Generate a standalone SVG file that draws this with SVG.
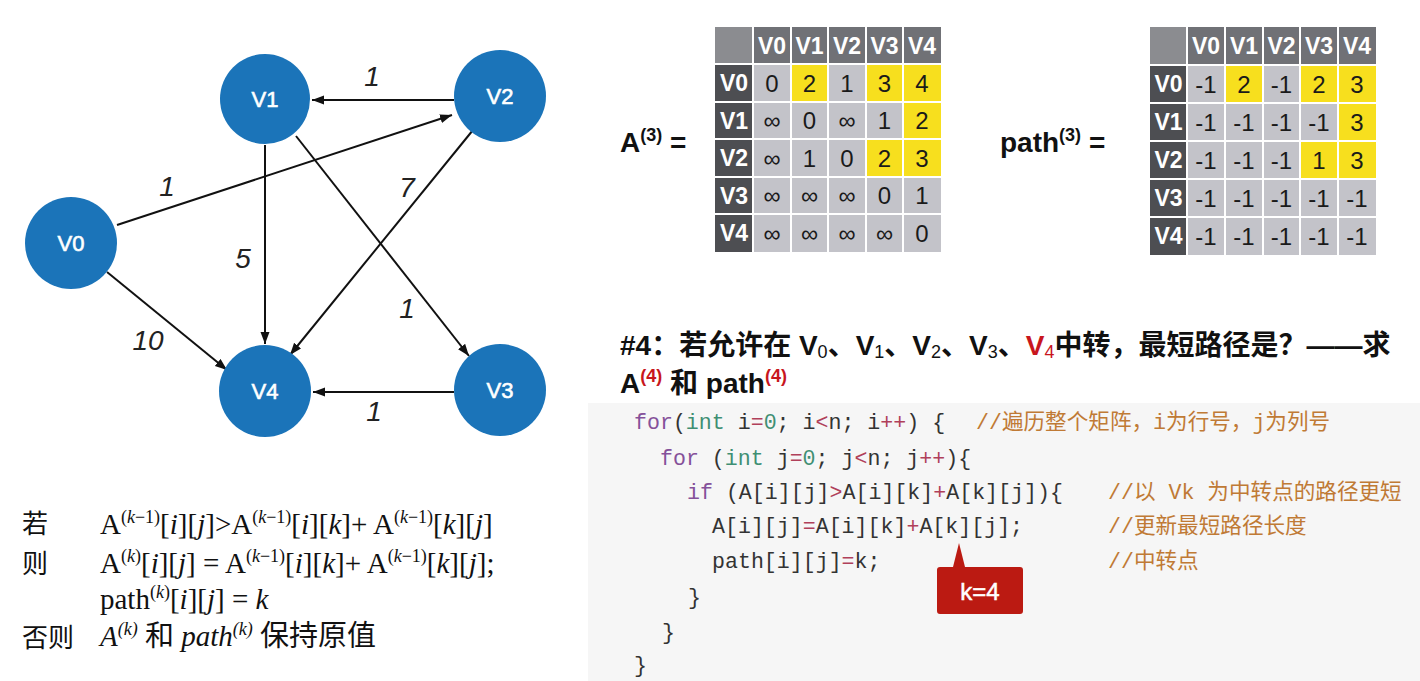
<svg xmlns="http://www.w3.org/2000/svg" width="1420" height="681" viewBox="0 0 1420 681">
<defs>
<marker id="arr" markerUnits="userSpaceOnUse" markerWidth="13" markerHeight="10" refX="12" refY="4.5" orient="auto">
<path d="M0,0 L12,4.5 L0,9 z" fill="#111"/>
</marker>
<style>
.node circle{fill:#1b74b9}
.node text{font-family:"Liberation Sans",Arial,sans-serif;font-size:22px;fill:#fff;stroke:#fff;stroke-width:0.6;text-anchor:middle}
.edge{stroke:#111;stroke-width:2;fill:none;marker-end:url(#arr)}
.wt{font-family:"Liberation Sans",Arial,sans-serif;font-style:italic;font-size:28px;fill:#222;text-anchor:middle}
.corner{fill:#8b8c90}.hrow{fill:#707176}.hcol{fill:#4d4e52}.data{fill:#c3c3c9}.yel{fill:#f7df1e}
.grid{stroke:#fff;stroke-width:2}
.ht{font-family:"Liberation Sans",Arial,sans-serif;font-weight:bold;font-size:23px;fill:#fff;text-anchor:middle}
.dt{font-family:"Liberation Sans",Arial,sans-serif;font-size:24px;fill:#1a1a1a;text-anchor:middle}
.lbl{font-family:"Liberation Sans",Arial,sans-serif;font-weight:bold;font-size:28px;fill:#111}
.title{font-family:"Liberation Sans","Noto Sans CJK SC",sans-serif;font-weight:bold;font-size:28px;fill:#111}
.red{fill:#c8161d}
.code{font-family:"Liberation Mono","Noto Sans CJK SC",monospace;font-size:21.6px;fill:#333}
.kw{fill:#85519a}.ty{fill:#3f8f73}.nu{fill:#3f8f73}.op{fill:#b0405a}
.cm{fill:#c07a35}
.f{font-family:"Liberation Serif","Noto Sans CJK SC",serif;font-size:29px;fill:#111}
.cj{font-family:"Noto Sans CJK SC",sans-serif;font-size:26px;fill:#111}
.sp{font-size:18px}
</style>
</defs>
<rect width="1420" height="681" fill="#fff"/>

<g id="connectors">
<line class="edge" x1="454" y1="100" x2="312" y2="100"/>
<line class="edge" x1="117" y1="225" x2="452" y2="115"/>
<line class="edge" x1="107" y1="272" x2="227" y2="370"/>
<line class="edge" x1="265" y1="145" x2="265" y2="344"/>
<line class="edge" x1="473" y1="130" x2="290" y2="355"/>
<line class="edge" x1="296" y1="136" x2="469" y2="356"/>
<line class="edge" x1="454" y1="392" x2="313" y2="392"/>
<text class="wt" x="372" y="86">1</text>
<text class="wt" x="167" y="196">1</text>
<text class="wt" x="407" y="197">7</text>
<text class="wt" x="243" y="268">5</text>
<text class="wt" x="407" y="318">1</text>
<text class="wt" x="148" y="350">10</text>
<text class="wt" x="374" y="421">1</text>
</g>

<g id="V0" class="node"><circle cx="71" cy="243" r="46"/><text x="71" y="251">V0</text></g>
<g id="V1" class="node"><circle cx="265" cy="99" r="45"/><text x="265" y="107">V1</text></g>
<g id="V2" class="node"><circle cx="500" cy="96" r="46"/><text x="500" y="104">V2</text></g>
<g id="V3" class="node"><circle cx="500" cy="390" r="46"/><text x="500" y="398">V3</text></g>
<g id="V4" class="node"><circle cx="265" cy="391" r="46"/><text x="265" y="399">V4</text></g>

<g id="A3">
<text class="lbl" x="620" y="152">A<tspan class="sp" dy="-11">(3)</tspan><tspan dy="11"> =</tspan></text>
<rect class="corner" x="715" y="27" width="38" height="37"/>
<rect class="hrow" x="753" y="27" width="188" height="37"/>
<rect class="hcol" x="715" y="64" width="38" height="188"/>
<rect class="data" x="753" y="64" width="188" height="188"/>
<rect class="yel" x="791" y="64" width="37" height="38"/>
<rect class="yel" x="866" y="64" width="75" height="38"/>
<rect class="yel" x="903" y="102" width="38" height="37"/>
<rect class="yel" x="866" y="139" width="75" height="38"/>
<g class="grid">
<line x1="753" y1="27" x2="753" y2="252"/><line x1="791" y1="27" x2="791" y2="252"/><line x1="828" y1="27" x2="828" y2="252"/><line x1="866" y1="27" x2="866" y2="252"/><line x1="903" y1="27" x2="903" y2="252"/>
<line x1="715" y1="64" x2="941" y2="64"/><line x1="715" y1="102" x2="941" y2="102"/><line x1="715" y1="139" x2="941" y2="139"/><line x1="715" y1="177" x2="941" y2="177"/><line x1="715" y1="214" x2="941" y2="214"/>
</g>
<text class="ht" x="772" y="54">V0</text><text class="ht" x="809.5" y="54">V1</text><text class="ht" x="847" y="54">V2</text><text class="ht" x="884.5" y="54">V3</text><text class="ht" x="922" y="54">V4</text>
<text class="ht" x="734" y="91">V0</text><text class="ht" x="734" y="129">V1</text><text class="ht" x="734" y="166">V2</text><text class="ht" x="734" y="204">V3</text><text class="ht" x="734" y="241">V4</text>
<text class="dt" x="772" y="92">0</text><text class="dt" x="809.5" y="92">2</text><text class="dt" x="847" y="92">1</text><text class="dt" x="884.5" y="92">3</text><text class="dt" x="922" y="92">4</text>
<text class="dt" x="772" y="129">∞</text><text class="dt" x="809.5" y="129">0</text><text class="dt" x="847" y="129">∞</text><text class="dt" x="884.5" y="129">1</text><text class="dt" x="922" y="129">2</text>
<text class="dt" x="772" y="167">∞</text><text class="dt" x="809.5" y="167">1</text><text class="dt" x="847" y="167">0</text><text class="dt" x="884.5" y="167">2</text><text class="dt" x="922" y="167">3</text>
<text class="dt" x="772" y="204">∞</text><text class="dt" x="809.5" y="204">∞</text><text class="dt" x="847" y="204">∞</text><text class="dt" x="884.5" y="204">0</text><text class="dt" x="922" y="204">1</text>
<text class="dt" x="772" y="242">∞</text><text class="dt" x="809.5" y="242">∞</text><text class="dt" x="847" y="242">∞</text><text class="dt" x="884.5" y="242">∞</text><text class="dt" x="922" y="242">0</text>
</g>

<g id="path3">
<text class="lbl" x="1000" y="152">path<tspan class="sp" dy="-11">(3)</tspan><tspan dy="11"> =</tspan></text>
<rect class="corner" x="1150" y="27" width="37" height="38"/>
<rect class="hrow" x="1187" y="27" width="189" height="38"/>
<rect class="hcol" x="1150" y="65" width="37" height="190"/>
<rect class="data" x="1187" y="65" width="189" height="190"/>
<rect class="yel" x="1225" y="65" width="38" height="38"/>
<rect class="yel" x="1300" y="65" width="76" height="38"/>
<rect class="yel" x="1338" y="103" width="38" height="38"/>
<rect class="yel" x="1300" y="141" width="76" height="38"/>
<g class="grid">
<line x1="1187" y1="27" x2="1187" y2="255"/><line x1="1225" y1="27" x2="1225" y2="255"/><line x1="1263" y1="27" x2="1263" y2="255"/><line x1="1300" y1="27" x2="1300" y2="255"/><line x1="1338" y1="27" x2="1338" y2="255"/>
<line x1="1150" y1="65" x2="1376" y2="65"/><line x1="1150" y1="103" x2="1376" y2="103"/><line x1="1150" y1="141" x2="1376" y2="141"/><line x1="1150" y1="179" x2="1376" y2="179"/><line x1="1150" y1="217" x2="1376" y2="217"/>
</g>
<text class="ht" x="1206" y="54">V0</text><text class="ht" x="1244" y="54">V1</text><text class="ht" x="1281.5" y="54">V2</text><text class="ht" x="1319" y="54">V3</text><text class="ht" x="1357" y="54">V4</text>
<text class="ht" x="1168.5" y="92">V0</text><text class="ht" x="1168.5" y="130">V1</text><text class="ht" x="1168.5" y="168">V2</text><text class="ht" x="1168.5" y="206">V3</text><text class="ht" x="1168.5" y="244">V4</text>
<text class="dt" x="1206" y="93">-1</text><text class="dt" x="1244" y="93">2</text><text class="dt" x="1281.5" y="93">-1</text><text class="dt" x="1319" y="93">2</text><text class="dt" x="1357" y="93">3</text>
<text class="dt" x="1206" y="131">-1</text><text class="dt" x="1244" y="131">-1</text><text class="dt" x="1281.5" y="131">-1</text><text class="dt" x="1319" y="131">-1</text><text class="dt" x="1357" y="131">3</text>
<text class="dt" x="1206" y="169">-1</text><text class="dt" x="1244" y="169">-1</text><text class="dt" x="1281.5" y="169">-1</text><text class="dt" x="1319" y="169">1</text><text class="dt" x="1357" y="169">3</text>
<text class="dt" x="1206" y="207">-1</text><text class="dt" x="1244" y="207">-1</text><text class="dt" x="1281.5" y="207">-1</text><text class="dt" x="1319" y="207">-1</text><text class="dt" x="1357" y="207">-1</text>
<text class="dt" x="1206" y="245">-1</text><text class="dt" x="1244" y="245">-1</text><text class="dt" x="1281.5" y="245">-1</text><text class="dt" x="1319" y="245">-1</text><text class="dt" x="1357" y="245">-1</text>
</g>

<g id="question">
<text class="title" x="620" y="355">#4：若允许在 V<tspan font-size="18" font-weight="normal" dy="3">0</tspan><tspan dy="-3">、V</tspan><tspan font-size="18" font-weight="normal" dy="3">1</tspan><tspan dy="-3">、V</tspan><tspan font-size="18" font-weight="normal" dy="3">2</tspan><tspan dy="-3">、V</tspan><tspan font-size="18" font-weight="normal" dy="3">3</tspan><tspan dy="-3">、</tspan><tspan class="red">V</tspan><tspan class="red" font-size="18" font-weight="normal" dy="3">4</tspan><tspan dy="-3">中转，最短路径是？——求</tspan></text>
<text class="title" x="620" y="393">A<tspan class="red" font-size="18" dy="-11">(4)</tspan><tspan dy="11"> 和 path</tspan><tspan class="red" font-size="18" dy="-11">(4)</tspan></text>
</g>

<g id="code">
<rect x="588" y="403" width="832" height="278" fill="#f6f6f6"/>
<text class="code" x="634" y="429"><tspan class="kw">for</tspan>(<tspan class="ty">int</tspan> i<tspan class="op">=</tspan><tspan class="nu">0</tspan>; i<tspan class="op">&lt;</tspan>n; i<tspan class="op">++</tspan>) {</text>
<text class="code cm" x="976" y="429">//遍历整个矩阵，i为行号，j为列号</text>
<text class="code" x="660" y="465"><tspan class="kw">for</tspan> (<tspan class="ty">int</tspan> j<tspan class="op">=</tspan><tspan class="nu">0</tspan>; j<tspan class="op">&lt;</tspan>n; j<tspan class="op">++</tspan>){</text>
<text class="code" x="687" y="499"><tspan class="kw">if</tspan> (A[i][j]<tspan class="op">&gt;</tspan>A[i][k]<tspan class="op">+</tspan>A[k][j]){</text>
<text class="code cm" x="1108" y="499">//以 Vk 为中转点的路径更短</text>
<text class="code" x="712" y="533">A[i][j]<tspan class="op">=</tspan>A[i][k]<tspan class="op">+</tspan>A[k][j];</text>
<text class="code cm" x="1108" y="533">//更新最短路径长度</text>
<text class="code" x="712" y="568">path[i][j]<tspan class="op">=</tspan>k;</text>
<text class="code cm" x="1108" y="568">//中转点</text>
<text class="code" x="688" y="604">}</text>
<text class="code" x="662" y="639">}</text>
<text class="code" x="634" y="672">}</text>
</g>

<g id="callout">
<path d="M940,567 H953 L959,543 L965,567 H1020 Q1023,567 1023,570 V611 Q1023,614 1020,614 H940 Q937,614 937,611 V570 Q937,567 940,567 Z" fill="#bb1a12"/>
<text x="980" y="600" font-family="Liberation Sans,Arial,sans-serif" font-size="24" fill="#fff" stroke="#fff" stroke-width="0.5" text-anchor="middle">k=4</text>
</g>

<g id="formula">
<text class="cj" x="22" y="533">若</text>
<text class="f" x="100" y="534">A<tspan class="sp" dy="-11">(<tspan font-style="italic">k</tspan>−1)</tspan><tspan dy="11">[<tspan font-style="italic">i</tspan>][<tspan font-style="italic">j</tspan>]&gt;A</tspan><tspan class="sp" dy="-11">(<tspan font-style="italic">k</tspan>−1)</tspan><tspan dy="11">[<tspan font-style="italic">i</tspan>][<tspan font-style="italic">k</tspan>]+ A</tspan><tspan class="sp" dy="-11">(<tspan font-style="italic">k</tspan>−1)</tspan><tspan dy="11">[<tspan font-style="italic">k</tspan>][<tspan font-style="italic">j</tspan>]</tspan></text>
<text class="cj" x="22" y="573">则</text>
<text class="f" x="100" y="573">A<tspan class="sp" dy="-11">(<tspan font-style="italic">k</tspan>)</tspan><tspan dy="11">[<tspan font-style="italic">i</tspan>][<tspan font-style="italic">j</tspan>] = A</tspan><tspan class="sp" dy="-11">(<tspan font-style="italic">k</tspan>−1)</tspan><tspan dy="11">[<tspan font-style="italic">i</tspan>][<tspan font-style="italic">k</tspan>]+ A</tspan><tspan class="sp" dy="-11">(<tspan font-style="italic">k</tspan>−1)</tspan><tspan dy="11">[<tspan font-style="italic">k</tspan>][<tspan font-style="italic">j</tspan>];</tspan></text>
<text class="f" x="100" y="609">path<tspan class="sp" dy="-11">(<tspan font-style="italic">k</tspan>)</tspan><tspan dy="11">[<tspan font-style="italic">i</tspan>][<tspan font-style="italic">j</tspan>] = <tspan font-style="italic">k</tspan></tspan></text>
<text class="cj" x="22" y="647">否则</text>
<text class="f" x="100" y="646"><tspan font-style="italic">A</tspan><tspan class="sp" font-style="italic" dy="-11">(k)</tspan><tspan dy="11"> 和 </tspan><tspan font-style="italic">path</tspan><tspan class="sp" font-style="italic" dy="-11">(k)</tspan><tspan dy="11"> 保持原值</tspan></text>
</g>
</svg>
